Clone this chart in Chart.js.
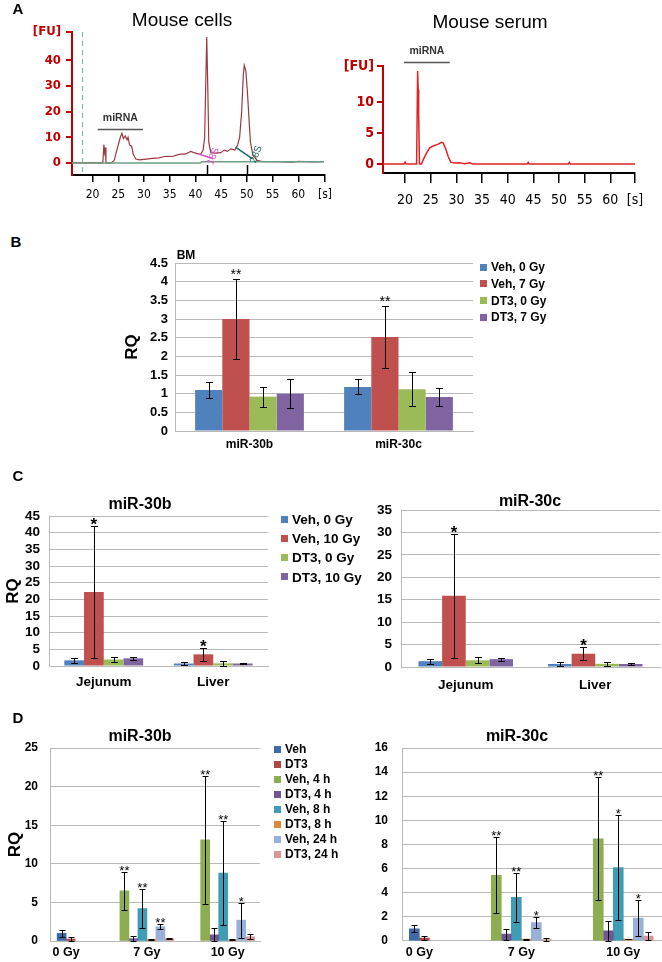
<!DOCTYPE html>
<html>
<head>
<meta charset="utf-8">
<title>miR-30b / miR-30c</title>
<script src="https://cdn.jsdelivr.net/npm/chart.js@4.4.1/dist/chart.umd.min.js"></script>
<style>
  body { margin: 0; background: #fff; }
  #fig { position: relative; width: 662px; height: 962px; overflow: hidden; font-family: 'Liberation Sans', Arial, sans-serif; color: #000; }
  #fig canvas { position: absolute; }
  .txt { position: absolute; transform: translate(-50%, -50%); white-space: nowrap; line-height: 1; }
  .letter { font-size: 15px; font-weight: bold; }
  .head { font-size: 16px; font-weight: bold; }
</style>
</head>
<body>
<div id="fig">
  <canvas id="aCells" width="345" height="210" style="left:0;top:0"></canvas>
  <canvas id="aSerum" width="327" height="215" style="left:335px;top:0"></canvas>
  <canvas id="bBM" width="562" height="227" style="left:100px;top:235px"></canvas>
  <canvas id="c30b" width="370" height="226" style="left:0;top:470px"></canvas>
  <canvas id="c30c" width="292" height="226" style="left:370px;top:470px"></canvas>
  <canvas id="d30b" width="345" height="237" style="left:0;top:725px"></canvas>
  <canvas id="d30c" width="292" height="237" style="left:370px;top:725px"></canvas>

  <div class="txt letter" style="left:18px;top:8px">A</div>
  <div class="txt" style="left:182px;top:19px;font-size:19px">Mouse cells</div>
  <div class="txt" style="left:490px;top:21px;font-size:19px">Mouse serum</div>
  <div class="txt letter" style="left:16px;top:241px">B</div>
  <div class="txt" style="left:186px;top:255px;font-size:12px;font-weight:bold">BM</div>
  <div class="txt letter" style="left:18px;top:475px">C</div>
  <div class="txt head" style="left:140px;top:504px">miR-30b</div>
  <div class="txt head" style="left:530px;top:501px">miR-30c</div>
  <div class="txt letter" style="left:18px;top:717px">D</div>
  <div class="txt head" style="left:140px;top:736px">miR-30b</div>
  <div class="txt head" style="left:517px;top:736px">miR-30c</div>
</div>

<script>
// ---------- A: electropherograms (time in s, fluorescence in FU) ----------
const cellsTime = [16, 22.0, 22.2, 22.35, 22.5, 22.6, 23.6, 24.2, 24.85, 25.4,
  25.7, 26.0, 26.35, 26.7, 26.9, 27.2, 27.6, 27.9, 28.4, 29.1,
  30.4, 31.65, 32.9, 34.2, 35.5, 36.8, 38.1, 39.1, 39.7, 40.4,
  41.0, 41.5, 41.8, 42.0, 42.2, 42.4, 42.6, 43.0, 43.9, 44.9,
  45.6, 46.2, 46.9, 47.7, 48.2, 48.6, 49.0, 49.3, 49.5, 49.8,
  50.1, 50.4, 50.7, 51.2, 52.0, 53.0, 55.9, 58.8, 60.1, 62.7, 65];
const cellsFU = [0, 0, 7.2, 4, 6, 0, 0, 1, 6, 10,
  11.5, 9.5, 10.5, 9, 10, 7, 6.5, 3.5, 1.5, 1.2,
  1.5, 1.8, 2, 2.6, 2.5, 3.3, 3.5, 4.5, 4, 3.6,
  3.3, 5, 10, 30, 49, 30, 8, 4, 3.8, 4,
  5, 4.5, 5.5, 5, 7, 10, 20, 34, 38, 36,
  28, 18, 8, 3, 1, 0.5, 0.5, 0.3, 0.6, 0.4, 0.5];
const cellsBaseTime = [16, 41, 41.2, 65];
const cellsBaseFU = [0, 0, 0.5, 0.5];
const serumTime = [15.7, 19.8, 20.0, 20.2, 22.25, 22.45, 22.55, 22.65, 22.8, 23.2,
  23.55, 24.2, 24.8, 25.5, 26.45, 27.1, 27.4, 27.9, 28.4, 28.9,
  29.7, 30.6, 31.6, 32.6, 33.2, 43.8, 44.0, 44.2, 51.8, 52.0, 52.2, 64.8];
const serumFU = [0, 0, 0.3, 0, 0, 15, 12, 8, 0, 0,
  0.7, 1.8, 2.6, 2.9, 3.2, 3.5, 3.4, 2.5, 1.2, 0.3,
  0.15, 0.2, 0.05, 0.2, 0, 0, 0.25, 0, 0, 0.25, 0, 0];
const timeTicks = [20, 25, 30, 35, 40, 45, 50, 55, 60];
const cellsBracket = [21, 29.8, 13.1];   // miRNA window: from, to, FU level
const serumBracket = [19.8, 28.7, 16.5];
const cellsStart = 18;
const cellsPeakTicks = [42.2, 50];
const rrnaTags = [
  { text: '18S', color: '#d24fd2', line: [40.7, 3.5, 43.4, 1.6], at: [43.5, 2.6] },
  { text: '28S', color: '#1e6a62', line: [47.8, 6.2, 51.1, 1.6], at: [51.8, 3.4] }
];

// ---------- B: bone marrow ----------
const bmGenes = ['miR-30b', 'miR-30c'];
const bmGroups = ['Veh, 0 Gy', 'Veh, 7 Gy', 'DT3, 0 Gy', 'DT3, 7 Gy'];
const bmMean = [[1.1, 1.18], [3.0, 2.52], [0.92, 1.12], [1.0, 0.91]];
const bmErr = [[0.22, 0.2], [1.08, 0.84], [0.27, 0.45], [0.38, 0.24]];
const bmStars = [['', ''], ['**', '**'], ['', ''], ['', '']];

// ---------- C: tissues ----------
const tissues = ['Jejunum', 'Liver'];
const tissueGroups = ['Veh, 0 Gy', 'Veh, 10 Gy', 'DT3, 0 Gy', 'DT3, 10 Gy'];
const c30bMean = [[1.7, 0.75], [22.2, 3.5], [1.95, 0.8], [2.3, 0.75]];
const c30bErr = [[0.7, 0.4], [19.7, 2.0], [0.85, 0.8], [0.5, 0.2]];
const c30cMean = [[1.3, 0.67], [15.9, 2.96], [1.5, 0.7], [1.75, 0.67]];
const c30cErr = [[0.55, 0.37], [13.8, 1.48], [0.7, 0.5], [0.35, 0.12]];
const tissueStars = [['', ''], ['*', '*'], ['', ''], ['', '']];

// ---------- D: serum time course ----------
const doses = ['0 Gy', '7 Gy', '10 Gy'];
const timeGroups = ['Veh', 'DT3', 'Veh, 4 h', 'DT3, 4 h', 'Veh, 8 h', 'DT3, 8 h', 'Veh, 24 h', 'DT3, 24 h'];
const d30bMean = [
  [1.0, null, null], [0.25, null, null], [null, 6.5, 13.1], [null, 0.3, 0.8],
  [null, 4.2, 8.8], [null, 0.2, 0.15], [null, 1.85, 2.7], [null, 0.3, 0.55]];
const d30bErr = [
  [0.45, null, null], [0.25, null, null], [null, 2.5, 8.3], [null, 0.35, 0.85],
  [null, 2.55, 6.7], [null, 0.1, 0.05], [null, 0.35, 2.25], [null, 0.1, 0.3]];
const d30bStars = [
  ['', '', ''], ['', '', ''], ['', '**', '**'], ['', '', ''],
  ['', '**', '**'], ['', '', ''], ['', '**', '*'], ['', '', '']];
const d30cMean = [
  [1.0, null, null], [0.22, null, null], [null, 5.43, 8.47], [null, 0.55, 0.83],
  [null, 3.6, 6.07], [null, 0.14, 0.14], [null, 1.52, 1.88], [null, 0.11, 0.39]];
const d30cErr = [
  [0.3, null, null], [0.18, null, null], [null, 3.15, 5.1], [null, 0.47, 0.83],
  [null, 2.03, 4.35], [null, 0.04, 0.03], [null, 0.45, 1.5], [null, 0.1, 0.35]];
const d30cStars = [
  ['', '', ''], ['', '', ''], ['', '**', '**'], ['', '', ''],
  ['', '**', '*'], ['', '', ''], ['', '*', '*'], ['', '', '']];

const bcColors = ['#4f81bd', '#c0504d', '#9bbb59', '#8064a2'];
const dColors = ['#3f6ca9', '#ae4844', '#8cae50', '#6f5793', '#3e9cb5', '#de883c', '#98b1d8', '#d69896'];

const grey = '#b9b9b9';
const sans = "'Liberation Sans', Arial, sans-serif";
const narrow = "'Liberation Sans Narrow', 'DejaVu Sans Condensed', sans-serif";

Chart.defaults.font.family = sans;
Chart.defaults.color = '#000';
Chart.defaults.animation = false;
Chart.defaults.plugins.legend.display = false;
Chart.defaults.plugins.tooltip.enabled = false;

// error bars and significance stars on top of every bar
const errorBars = {
  id: 'errorBars',
  afterDatasetsDraw(chart, args, opts) {
    const { ctx, scales: { y } } = chart;
    ctx.save();
    ctx.lineWidth = 1;
    ctx.strokeStyle = '#000';
    ctx.fillStyle = '#000';
    ctx.textAlign = 'center';
    ctx.textBaseline = 'alphabetic';
    ctx.font = opts.starFont;
    chart.data.datasets.forEach((ds, i) => {
      const meta = chart.getDatasetMeta(i);
      meta.data.forEach((bar, j) => {
        const v = meta.controller.getParsed(j).y;
        const e = ds.errors[j];
        if (v == null || !e) return;
        const x = Math.round(bar.x) + 0.5;
        const top = Math.round(y.getPixelForValue(v + e)) + 0.5;
        const bot = Math.round(y.getPixelForValue(Math.max(v - e, y.min))) + 0.5;
        ctx.beginPath();
        ctx.moveTo(x, top); ctx.lineTo(x, bot);
        ctx.moveTo(x - opts.cap, top); ctx.lineTo(x + opts.cap, top);
        ctx.moveTo(x - opts.cap, bot); ctx.lineTo(x + opts.cap, bot);
        ctx.stroke();
        if (ds.stars[j]) ctx.fillText(ds.stars[j], bar.x, top + opts.starShift);
      });
    });
    ctx.restore();
  }
};

// legend column to the right of the plot
const sideLegend = {
  id: 'sideLegend',
  afterDraw(chart, args, opts) {
    if (!opts.show) return;
    const { ctx, chartArea } = chart;
    ctx.save();
    ctx.font = opts.font;
    ctx.textAlign = 'left';
    ctx.textBaseline = 'middle';
    chart.data.datasets.forEach((ds, i) => {
      const x = chartArea.right + opts.dx;
      const y = chartArea.top + opts.dy + i * opts.gap;
      ctx.fillStyle = ds.backgroundColor;
      ctx.fillRect(x, Math.round(y - opts.box / 2), opts.box, opts.box);
      ctx.fillStyle = '#000';
      ctx.fillText(ds.label, x + opts.box + 4, y + 1);
    });
    ctx.restore();
  }
};

// start marker, miRNA bracket and rRNA tags of the traces
const traceNotes = {
  id: 'traceNotes',
  beforeDatasetsDraw(chart, args, o) {
    if (o.start == null) return;
    const { ctx, chartArea: ca, scales: { x } } = chart;
    const px = Math.round(x.getPixelForValue(o.start)) + 0.5;
    ctx.save();
    ctx.strokeStyle = '#8db59b';
    ctx.lineWidth = 1.2;
    ctx.setLineDash([5, 4]);
    ctx.beginPath(); ctx.moveTo(px, ca.top); ctx.lineTo(px, ca.bottom); ctx.stroke();
    ctx.restore();
  },
  afterDatasetsDraw(chart, args, o) {
    const { ctx, chartArea: ca, scales: { x, y } } = chart;
    ctx.save();
    (o.peaks || []).forEach(t => {
      const px = Math.round(x.getPixelForValue(t)) + 0.5;
      ctx.strokeStyle = '#000';
      ctx.lineWidth = 1.5;
      ctx.beginPath(); ctx.moveTo(px, ca.bottom); ctx.lineTo(px, ca.bottom - 10); ctx.stroke();
    });
    (o.tags || []).forEach(tag => {
      ctx.strokeStyle = tag.color;
      ctx.fillStyle = tag.color;
      ctx.lineWidth = 1.5;
      ctx.beginPath();
      ctx.moveTo(x.getPixelForValue(tag.line[0]), y.getPixelForValue(tag.line[1]));
      ctx.lineTo(x.getPixelForValue(tag.line[2]), y.getPixelForValue(tag.line[3]));
      ctx.stroke();
      ctx.save();
      ctx.translate(x.getPixelForValue(tag.at[0]), y.getPixelForValue(tag.at[1]));
      ctx.rotate(-1.2);
      ctx.font = '10px ' + sans;
      ctx.textAlign = 'center';
      ctx.textBaseline = 'middle';
      ctx.fillText(tag.text, 0, 0);
      ctx.restore();
    });
    const [from, to, level] = o.bracket;
    const py = Math.round(y.getPixelForValue(level)) + 0.5;
    ctx.strokeStyle = '#555';
    ctx.lineWidth = 1.3;
    ctx.beginPath();
    ctx.moveTo(x.getPixelForValue(from), py);
    ctx.lineTo(x.getPixelForValue(to), py);
    ctx.stroke();
    ctx.fillStyle = '#333';
    ctx.font = 'bold 10.5px ' + sans;
    ctx.textAlign = 'center';
    ctx.textBaseline = 'middle';
    ctx.fillText('miRNA', x.getPixelForValue((from + to) / 2), py - 11);
    ctx.restore();
  }
};

function trace(id, series, o) {
  new Chart(document.getElementById(id), {
    type: 'line',
    data: {
      datasets: series.map(s => ({
        data: s.t.map((t, i) => ({ x: t, y: s.v[i] })),
        borderColor: s.color,
        borderWidth: s.width,
        pointRadius: 0,
        tension: 0
      }))
    },
    options: {
      responsive: false,
      layout: { padding: o.pad },
      scales: {
        x: {
          type: 'linear', min: o.xMin, max: o.xMax,
          afterFit: s => { s.height = o.xH; },
          afterBuildTicks: s => { s.ticks = timeTicks.concat(o.xMax).map(v => ({ value: v })); },
          ticks: { callback: v => v === o.xMax ? '[s]' : v, font: { family: narrow, size: o.xFont }, padding: o.xPad, maxRotation: 0, autoSkip: false },
          grid: { drawOnChartArea: false, tickLength: o.xTick, color: '#000', lineWidth: 1.5 },
          border: { color: '#000', width: 2 }
        },
        y: {
          min: o.yMin, max: o.yMax,
          afterFit: s => { s.width = o.yW; },
          afterBuildTicks: s => { s.ticks = o.yTicks.concat(o.yMax).map(v => ({ value: v })); },
          ticks: { callback: v => v === o.yMax ? '[FU]' : v, color: '#c00000', font: { family: narrow, size: o.yFont, weight: 'bold' }, padding: o.yPad, autoSkip: false },
          grid: { drawOnChartArea: false, tickLength: 6, color: '#c00000', lineWidth: 2 },
          border: { color: '#c00000', width: 2 }
        }
      },
      plugins: { traceNotes: o.notes }
    },
    plugins: [traceNotes]
  });
}

function barChart(id, cats, groups, means, errs, stars, colors, o) {
  const linear = o.xRange != null;
  const xScale = {
    afterFit: s => { s.height = o.xH; },
    grid: { display: false, drawTicks: false },
    border: { color: grey },
    ticks: { font: { size: o.xFont, weight: 'bold' }, padding: o.xPad, maxRotation: 0, autoSkip: false }
  };
  if (linear) {
    Object.assign(xScale, {
      type: 'linear', offset: false, min: o.xRange[0], max: o.xRange[1],
      afterBuildTicks: s => { s.ticks = cats.map((c, i) => ({ value: i })); }
    });
    xScale.ticks.callback = v => cats[v];
  }
  new Chart(document.getElementById(id), {
    type: 'bar',
    data: {
      labels: linear ? [] : cats,
      datasets: groups.map((g, k) => ({
        label: g,
        data: linear ? means[k].map((v, i) => ({ x: i, y: v })) : means[k],
        errors: errs[k],
        stars: stars[k],
        backgroundColor: colors[k],
        categoryPercentage: o.catPct || 0.8,
        barPercentage: 1,
        barThickness: o.barW,
        skipNull: linear
      }))
    },
    options: {
      responsive: false,
      layout: { padding: { left: 0, right: o.padR, top: o.padT, bottom: 0 } },
      scales: {
        x: xScale,
        y: {
          min: 0, max: o.yMax,
          afterFit: s => { s.width = o.yW; },
          ticks: { stepSize: o.yStep, callback: v => v, font: { size: o.yFont, weight: 'bold' }, padding: o.yPad, autoSkip: false },
          grid: { color: grey, drawTicks: false },
          border: { color: grey },
          title: { display: o.rq != null, text: 'RQ', font: { size: 17, weight: 'bold' }, padding: { top: o.rq || 0, bottom: 0 } }
        }
      },
      plugins: {
        errorBars: o.err,
        sideLegend: o.legend || { show: false }
      }
    },
    plugins: [errorBars, sideLegend]
  });
}

trace('aCells', [
  { t: cellsBaseTime, v: cellsBaseFU, color: '#6e9e84', width: 1.5 },
  { t: cellsTime, v: cellsFU, color: '#9b3a3e', width: 1.2 }
], {
  pad: { left: 0, right: 20, top: 32, bottom: 0 },
  xMin: 16, xMax: 65.2, xH: 35, xFont: 12, xPad: 6, xTick: 7,
  yMin: -4.7, yMax: 51, yW: 72, yTicks: [0, 10, 20, 30, 40], yFont: 13, yPad: 5,
  notes: { bracket: cellsBracket, start: cellsStart, peaks: cellsPeakTicks, tags: rrnaTags }
});

trace('aSerum', [
  { t: serumTime, v: serumFU, color: '#e02424', width: 1.5 }
], {
  pad: { left: 0, right: 27, top: 66, bottom: 0 },
  xMin: 15.7, xMax: 64.8, xH: 42, xFont: 14, xPad: 9, xTick: 10,
  yMin: -1.45, yMax: 15.8, yW: 48, yTicks: [0, 5, 10], yFont: 14, yPad: 3,
  notes: { bracket: serumBracket }
});

barChart('bBM', bmGenes, bmGroups, bmMean, bmErr, bmStars, bcColors, {
  padR: 189, padT: 28, yW: 75, xH: 31, yMax: 4.5, yStep: 0.5, yFont: 13, yPad: 7,
  xFont: 12, xPad: 6, catPct: 0.73, rq: 22,
  err: { cap: 3.5, starFont: '14px ' + sans, starShift: -1 },
  legend: { show: true, dx: 7, dy: 4, gap: 16.7, box: 7, font: 'bold 12px ' + sans }
});

barChart('c30b', tissues, tissueGroups, c30bMean, c30bErr, tissueStars, bcColors, {
  padR: 102, padT: 46, yW: 49, xH: 30, yMax: 45, yStep: 5, yFont: 13.5, yPad: 9,
  xFont: 13.5, xPad: 8, catPct: 0.72, rq: 3,
  err: { cap: 3.5, starFont: 'bold 17px ' + sans, starShift: 3 },
  legend: { show: true, dx: 13, dy: 3, gap: 19.3, box: 7, font: 'bold 13.5px ' + sans }
});

barChart('c30c', tissues, tissueGroups, c30cMean, c30cErr, tissueStars, bcColors, {
  padR: 2, padT: 40, yW: 31, xH: 29, yMax: 35, yStep: 5, yFont: 13.5, yPad: 9,
  xFont: 13.5, xPad: 10, catPct: 0.73,
  err: { cap: 3.5, starFont: 'bold 17px ' + sans, starShift: 3 }
});

barChart('d30b', doses, timeGroups, d30bMean, d30bErr, d30bStars, dColors, {
  padR: 85, padT: 23, yW: 50, xH: 21, yMax: 25, yStep: 5, yFont: 12, yPad: 12,
  xFont: 12.5, xPad: 4, xRange: [-0.2, 2.4], barW: 9, rq: 5,
  err: { cap: 3, starFont: '13px ' + sans, starShift: 2 },
  legend: { show: true, dx: 14, dy: 1, gap: 15, box: 7, font: 'bold 12px ' + sans }
});

barChart('d30c', doses, timeGroups, d30cMean, d30cErr, d30cStars, dColors, {
  padR: 0, padT: 23, yW: 32, xH: 20, yMax: 16, yStep: 2, yFont: 12, yPad: 14,
  xFont: 12.5, xPad: 4, xRange: [-0.17, 2.38], barW: 10,
  err: { cap: 3, starFont: '13px ' + sans, starShift: 2 }
});
</script>
</body>
</html>
